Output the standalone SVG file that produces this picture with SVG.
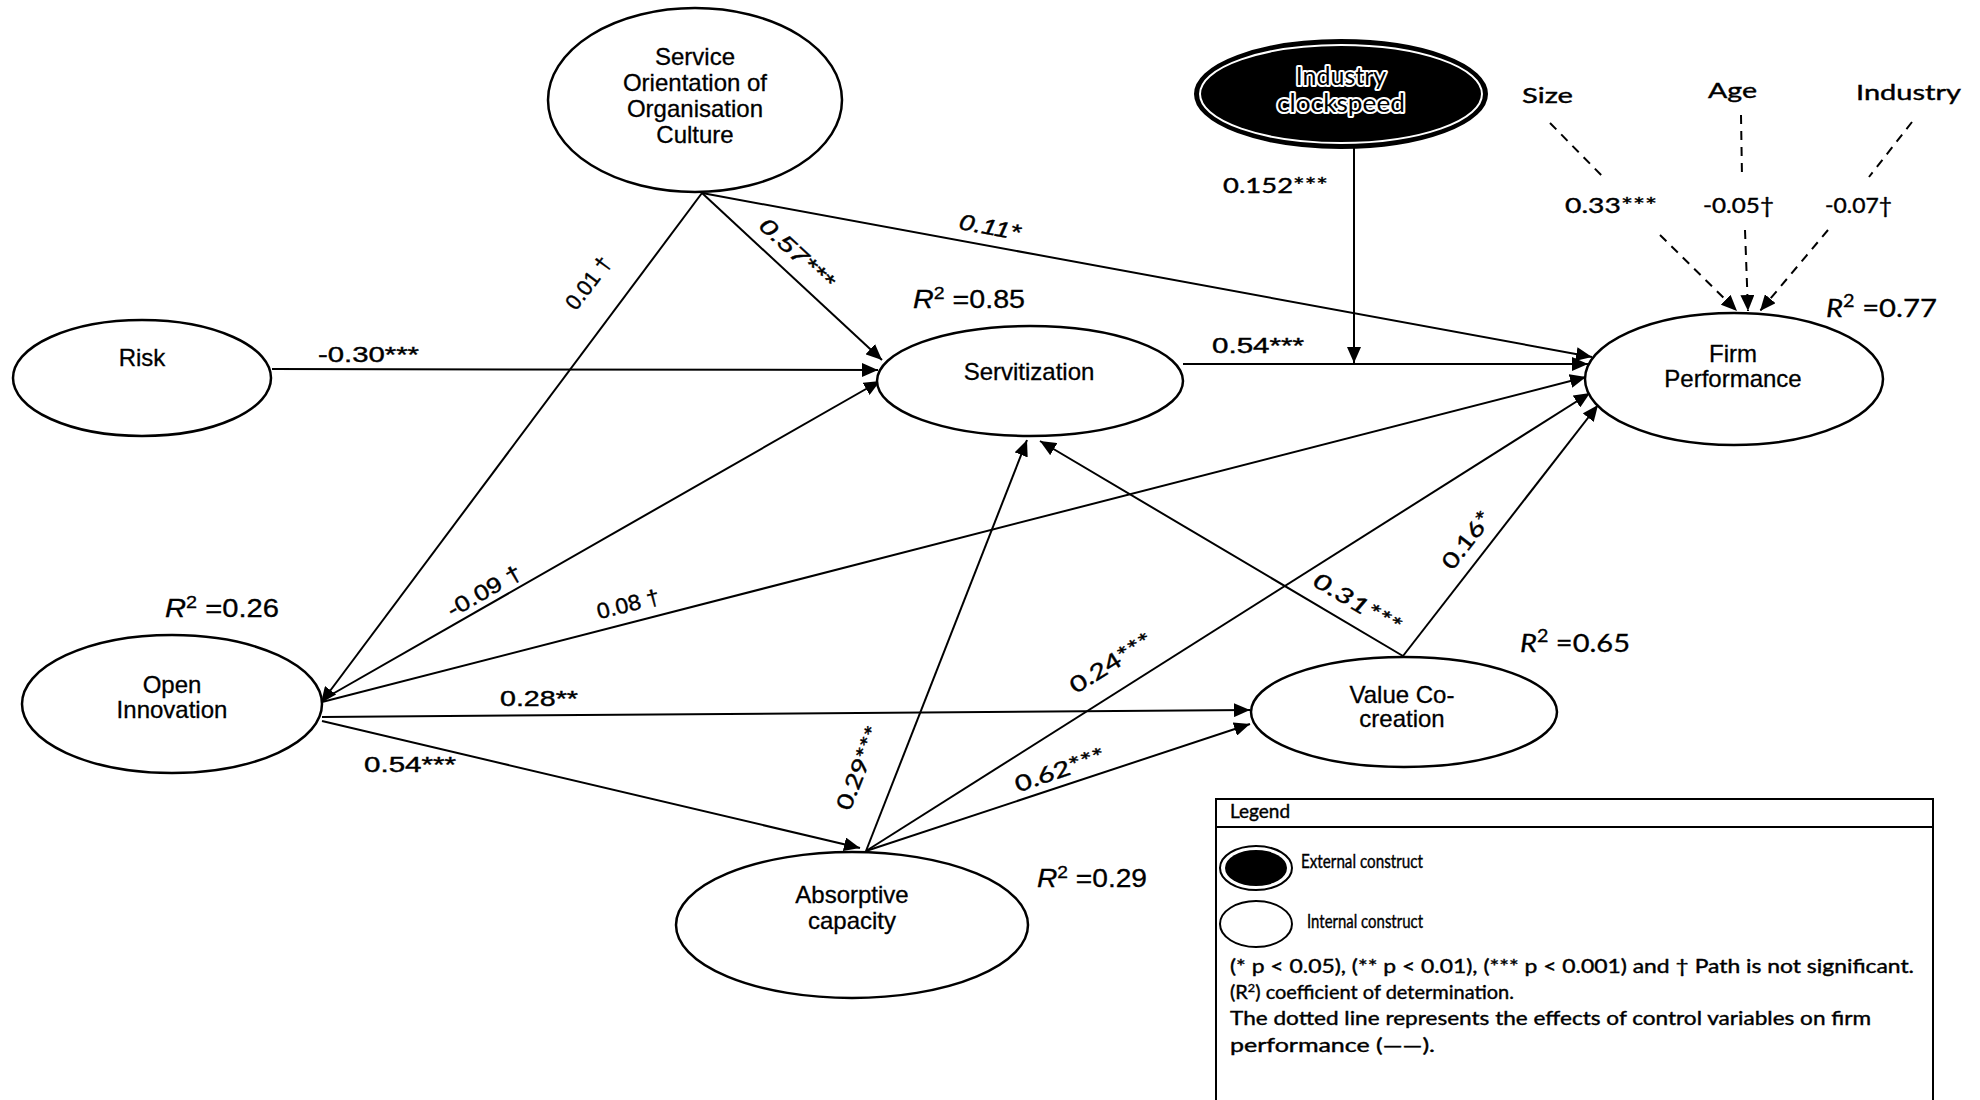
<svg xmlns="http://www.w3.org/2000/svg" width="1980" height="1100" viewBox="0 0 1980 1100">
  <defs>
    <marker id="arrow" markerUnits="userSpaceOnUse" markerWidth="18" markerHeight="14" refX="16" refY="7" orient="auto">
      <path d="M0,0 L16,7 L0,14 z" fill="#000"/>
    </marker>
    <style>
      .node { fill: #fff; stroke: #000; stroke-width: 2.5; }
      .edge { stroke: #000; stroke-width: 2; fill: none; }
      .dash { stroke: #000; stroke-width: 2; fill: none; stroke-dasharray: 9 7; }
      .lbl { font-family: "Liberation Sans", Arial, sans-serif; font-size: 24px; fill: #000; text-anchor: middle; stroke: #000; stroke-width: 0.3; }
      .el { font-family: "Liberation Sans", Arial, sans-serif; font-size: 22px; fill: #000; stroke: #000; stroke-width: 0.4; }
      .cal { font-family: Lato, "Open Sans", sans-serif; font-size: 22px; fill: #000; stroke: #000; stroke-width: 0.4; }
      .halo { font-family: Lato, "Open Sans", sans-serif; font-size: 25px; fill: #000; text-anchor: middle; stroke: #fff; stroke-width: 4px; stroke-linejoin: round; paint-order: stroke; }
      .r2 { font-family: "Liberation Sans", Arial, sans-serif; font-size: 25px; fill: #000; stroke: #000; stroke-width: 0.3; }
      .r2c { font-family: Lato, "Open Sans", sans-serif; font-size: 25px; fill: #000; stroke: #000; stroke-width: 0.3; }
      .leg { font-family: Lato, "Open Sans", sans-serif; font-size: 19px; fill: #000; stroke: #000; stroke-width: 0.4; }
      .it { font-style: italic; }
    </style>
  </defs>

  <rect width="1980" height="1100" fill="#fff"/>

  <!-- path connectors -->
  <g id="connectors">
    <line class="edge" x1="702" y1="193" x2="321" y2="703" marker-end="url(#arrow)"/>
    <line class="edge" x1="702" y1="193" x2="882" y2="360" marker-end="url(#arrow)"/>
    <line class="edge" x1="702" y1="193" x2="1592" y2="357" marker-end="url(#arrow)"/>
    <line class="edge" x1="272" y1="369" x2="878" y2="370" marker-end="url(#arrow)"/>
    <line class="edge" x1="1183" y1="364" x2="1588" y2="364" marker-end="url(#arrow)"/>
    <line class="edge" x1="1354" y1="148" x2="1354" y2="363" marker-end="url(#arrow)"/>
    <line class="edge" x1="322" y1="700" x2="880" y2="381" marker-end="url(#arrow)"/>
    <line class="edge" x1="322" y1="702" x2="1586" y2="377" marker-end="url(#arrow)"/>
    <line class="edge" x1="322" y1="717" x2="1250" y2="710" marker-end="url(#arrow)"/>
    <line class="edge" x1="322" y1="721" x2="860" y2="848" marker-end="url(#arrow)"/>
    <line class="edge" x1="866" y1="851" x2="1027" y2="440" marker-end="url(#arrow)"/>
    <line class="edge" x1="866" y1="851" x2="1590" y2="393" marker-end="url(#arrow)"/>
    <line class="edge" x1="866" y1="851" x2="1250" y2="724" marker-end="url(#arrow)"/>
    <line class="edge" x1="1403" y1="656" x2="1040" y2="441" marker-end="url(#arrow)"/>
    <line class="edge" x1="1403" y1="656" x2="1598" y2="405" marker-end="url(#arrow)"/>

    <!-- control variables (dashed) -->
    <line class="dash" x1="1550" y1="123" x2="1606" y2="180"/>
    <line class="dash" x1="1660" y1="235" x2="1737" y2="311" marker-end="url(#arrow)"/>
    <line class="dash" x1="1741" y1="115" x2="1742" y2="177"/>
    <line class="dash" x1="1745" y1="230" x2="1748" y2="311" marker-end="url(#arrow)"/>
    <line class="dash" x1="1912" y1="122" x2="1869" y2="177"/>
    <line class="dash" x1="1828" y1="230" x2="1760" y2="311" marker-end="url(#arrow)"/>
  </g>

  <!-- path coefficients -->
  <g id="edge-labels">
    <text class="el" text-anchor="middle" dy="0.35em" transform="translate(588,283) rotate(-53)" textLength="60" lengthAdjust="spacingAndGlyphs">0.01 †</text>
    <text class="el it" text-anchor="middle" dy="0.35em" transform="translate(797,253) rotate(42.5)" textLength="93" lengthAdjust="spacingAndGlyphs">0.57***</text>
    <text class="el it" text-anchor="middle" dy="0.35em" transform="translate(990,227) rotate(10.6)" textLength="62" lengthAdjust="spacingAndGlyphs">0.11*</text>
    <text class="el" x="318" y="362" textLength="101" lengthAdjust="spacingAndGlyphs">-0.30***</text>
    <text class="el" x="1212" y="353" textLength="92" lengthAdjust="spacingAndGlyphs">0.54***</text>
    <text class="cal" x="1223" y="193" textLength="105" lengthAdjust="spacingAndGlyphs">0.152***</text>
    <text class="el" text-anchor="middle" dy="0.35em" transform="translate(484,591) rotate(-29.7)" textLength="82" lengthAdjust="spacingAndGlyphs">-0.09 †</text>
    <text class="el" text-anchor="middle" dy="0.35em" transform="translate(628,604) rotate(-14.3)" textLength="64" lengthAdjust="spacingAndGlyphs">0.08 †</text>
    <text class="el" x="500" y="706" textLength="78" lengthAdjust="spacingAndGlyphs">0.28**</text>
    <text class="el" x="364" y="772" textLength="92" lengthAdjust="spacingAndGlyphs">0.54***</text>
    <text class="cal" text-anchor="middle" dy="0.35em" transform="translate(859,768) rotate(-68.6)" textLength="88" lengthAdjust="spacingAndGlyphs">0.29***</text>
    <text class="cal" text-anchor="middle" dy="0.35em" transform="translate(1111,663) rotate(-32.3)" textLength="93" lengthAdjust="spacingAndGlyphs">0.24***</text>
    <text class="cal" text-anchor="middle" dy="0.35em" transform="translate(1060,770) rotate(-18.9)" textLength="94" lengthAdjust="spacingAndGlyphs">0.62***</text>
    <text class="cal it" text-anchor="middle" dy="0.35em" transform="translate(1357,603) rotate(30.6)" textLength="98" lengthAdjust="spacingAndGlyphs">0.31***</text>
    <text class="cal" text-anchor="middle" dy="0.35em" transform="translate(1467,540) rotate(-52.2)" textLength="67" lengthAdjust="spacingAndGlyphs">0.16*</text>

    <text class="cal" x="1565" y="213" textLength="92" lengthAdjust="spacingAndGlyphs">0.33***</text>
    <text class="cal" x="1703" y="213" textLength="71" lengthAdjust="spacingAndGlyphs">-0.05†</text>
    <text class="cal" x="1825" y="213" textLength="67" lengthAdjust="spacingAndGlyphs">-0.07†</text>
  </g>

  <!-- coefficients of determination -->
  <g id="r-squared">
    <text class="r2" x="913" y="308" textLength="112" lengthAdjust="spacingAndGlyphs"><tspan class="it">R</tspan><tspan baseline-shift="super" font-size="17">2</tspan> =0.85</text>
    <text class="r2c" x="1826" y="317" textLength="111" lengthAdjust="spacingAndGlyphs"><tspan class="it">R</tspan><tspan baseline-shift="super" font-size="17">2</tspan> =0.77</text>
    <text class="r2" x="165" y="617" textLength="114" lengthAdjust="spacingAndGlyphs"><tspan class="it">R</tspan><tspan baseline-shift="super" font-size="17">2</tspan> =0.26</text>
    <text class="r2c" x="1520" y="652" textLength="110" lengthAdjust="spacingAndGlyphs"><tspan class="it">R</tspan><tspan baseline-shift="super" font-size="17">2</tspan> =0.65</text>
    <text class="r2" x="1037" y="887" textLength="110" lengthAdjust="spacingAndGlyphs"><tspan class="it">R</tspan><tspan baseline-shift="super" font-size="17">2</tspan> =0.29</text>
  </g>

  <!-- constructs -->
  <g id="service-orientation">
    <ellipse class="node" cx="695" cy="100" rx="147" ry="92"/>
    <text class="lbl" x="695" y="65">Service</text>
    <text class="lbl" x="695" y="91">Orientation of</text>
    <text class="lbl" x="695" y="117">Organisation</text>
    <text class="lbl" x="695" y="143">Culture</text>
  </g>

  <g id="risk">
    <ellipse class="node" cx="142" cy="378" rx="129" ry="58"/>
    <text class="lbl" x="142" y="366">Risk</text>
  </g>

  <g id="servitization">
    <ellipse class="node" cx="1030" cy="381" rx="153" ry="55"/>
    <text class="lbl" x="1029" y="380">Servitization</text>
  </g>

  <g id="industry-clockspeed">
    <ellipse cx="1341" cy="94" rx="146" ry="54" fill="#000" stroke="#000" stroke-width="2"/>
    <ellipse cx="1341" cy="94" rx="141" ry="49" fill="none" stroke="#fff" stroke-width="2"/>
    <text class="halo" x="1341" y="85">Industry</text>
    <text class="halo" x="1341" y="112" textLength="128" lengthAdjust="spacingAndGlyphs">clockspeed</text>
  </g>

  <g id="firm-performance">
    <ellipse class="node" cx="1734" cy="379" rx="149" ry="66"/>
    <text class="lbl" x="1733" y="362">Firm</text>
    <text class="lbl" x="1733" y="387">Performance</text>
  </g>

  <g id="open-innovation">
    <ellipse class="node" cx="172" cy="704" rx="150" ry="69"/>
    <text class="lbl" x="172" y="693">Open</text>
    <text class="lbl" x="172" y="718">Innovation</text>
  </g>

  <g id="value-co-creation">
    <ellipse class="node" cx="1404" cy="712" rx="153" ry="55"/>
    <text class="lbl" x="1402" y="703">Value Co-</text>
    <text class="lbl" x="1402" y="727">creation</text>
  </g>

  <g id="absorptive-capacity">
    <ellipse class="node" cx="852" cy="925" rx="176" ry="73"/>
    <text class="lbl" x="852" y="903">Absorptive</text>
    <text class="lbl" x="852" y="929">capacity</text>
  </g>

  <!-- control variables -->
  <g id="control-size">
    <text class="cal" x="1522" y="103" font-size="23" textLength="51" lengthAdjust="spacingAndGlyphs">Size</text>
  </g>
  <g id="control-age">
    <text class="cal" x="1708" y="98" font-size="23" textLength="49" lengthAdjust="spacingAndGlyphs">Age</text>
  </g>
  <g id="control-industry">
    <text class="cal" x="1856" y="100" font-size="23" textLength="105" lengthAdjust="spacingAndGlyphs">Industry</text>
  </g>

  <!-- legend -->
  <g id="legend">
    <rect x="1216" y="799" width="717" height="310" fill="#fff" stroke="#000" stroke-width="2"/>
    <line x1="1216" y1="827" x2="1933" y2="827" stroke="#000" stroke-width="2"/>
    <text class="leg" x="1230" y="818">Legend</text>
    <ellipse cx="1256" cy="868" rx="36" ry="22" fill="#fff" stroke="#000" stroke-width="2"/>
    <ellipse cx="1256" cy="868" rx="31" ry="18" fill="#000"/>
    <text class="leg" x="1301" y="868" textLength="122" lengthAdjust="spacingAndGlyphs">External construct</text>
    <ellipse cx="1256" cy="924" rx="36" ry="23" fill="#fff" stroke="#000" stroke-width="2"/>
    <text class="leg" x="1307" y="928" textLength="116" lengthAdjust="spacingAndGlyphs">Internal construct</text>
    <text class="leg" x="1230" y="973" textLength="684" lengthAdjust="spacingAndGlyphs">(* p &lt; 0.05), (** p &lt; 0.01), (*** p &lt; 0.001) and † Path is not significant.</text>
    <text class="leg" x="1230" y="999" textLength="284" lengthAdjust="spacingAndGlyphs">(R<tspan baseline-shift="super" font-size="12">2</tspan>) coefficient of determination.</text>
    <text class="leg" x="1230" y="1025" textLength="641" lengthAdjust="spacingAndGlyphs">The dotted line represents the effects of control variables on firm</text>
    <text class="leg" x="1230" y="1052" textLength="205" lengthAdjust="spacingAndGlyphs">performance (——).</text>
  </g>
</svg>
